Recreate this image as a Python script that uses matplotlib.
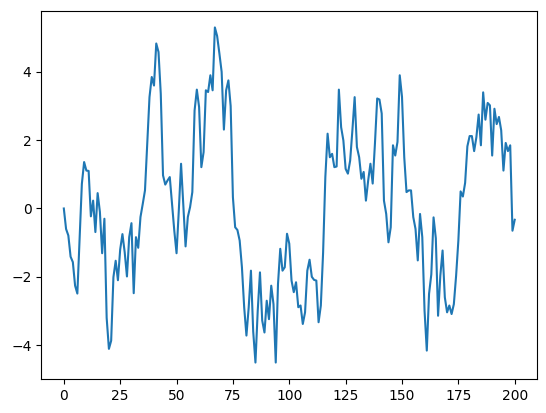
import matplotlib
matplotlib.use('Agg')
import matplotlib.pyplot as plt

# values, step 0..200
nilai = [
    0.00, -0.60, -0.79, -1.41, -1.57, -2.26, -2.49, -0.90, 0.72, 1.36,
    1.11, 1.10, -0.23, 0.23, -0.69, 0.45, -0.10, -1.31, -0.30, -3.20,
    -4.11, -3.87, -2.01, -1.53, -2.10, -1.20, -0.75, -1.28, -1.99, -0.84,
    -0.43, -2.48, -0.84, -1.15, -0.25, 0.13, 0.53, 1.90, 3.26, 3.85,
    3.60, 4.83, 4.58, 3.36, 0.97, 0.70, 0.82, 0.92, 0.14, -0.65,
    -1.31, -0.06, 1.31, 0.10, -1.11, -0.25, 0.04, 0.48, 2.87, 3.48,
    2.97, 1.21, 1.65, 3.46, 3.41, 3.90, 3.46, 5.30, 5.05, 4.54,
    4.00, 2.31, 3.46, 3.75, 3.00, 0.33, -0.55, -0.63, -0.94, -1.72,
    -2.89, -3.72, -2.90, -1.82, -3.60, -4.51, -3.00, -1.87, -3.28, -3.63,
    -2.70, -3.24, -2.26, -2.80, -4.51, -2.21, -1.18, -1.82, -1.72, -0.74,
    -1.03, -2.11, -2.45, -2.16, -2.89, -2.84, -3.38, -3.04, -1.82, -1.50,
    -2.00, -2.09, -2.11, -3.33, -2.84, -1.30, 0.92, 2.19, 1.50, 1.60,
    1.21, 1.23, 3.48, 2.38, 1.99, 1.16, 1.02, 1.40, 2.29, 3.26,
    1.80, 1.50, 0.87, 1.07, 0.23, 0.82, 1.31, 0.73, 1.90, 3.22,
    3.19, 2.78, 0.23, -0.16, -0.99, -0.55, 1.85, 1.55, 1.95, 3.90,
    3.27, 1.50, 0.48, 0.53, 0.53, -0.25, -0.60, -1.52, -0.16, -0.84,
    -2.99, -4.16, -2.50, -1.93, -0.26, -0.87, -3.14, -1.97, -1.23, -2.60,
    -3.04, -2.84, -3.09, -2.80, -1.97, -0.94, 0.50, 0.35, 0.75, 1.82,
    2.12, 2.12, 1.68, 2.09, 2.75, 1.85, 3.40, 2.60, 3.09, 3.02,
    1.55, 2.92, 2.47, 2.68, 2.29, 1.11, 1.92, 1.68, 1.85, -0.65,
    -0.33,
]
langkah = list(range(len(nilai)))

fig = plt.figure(figsize=(5.46, 4.13), dpi=100)
ax = fig.add_axes([0.0756, 0.0816, 0.9084, 0.8925])
ax.plot(langkah, nilai, color='#1f77b4', linewidth=1.5)
ax.set_xticks([0, 25, 50, 75, 100, 125, 150, 175, 200])
ax.set_yticks([-4, -2, 0, 2, 4])

fig.savefig('out.png', dpi=100)
